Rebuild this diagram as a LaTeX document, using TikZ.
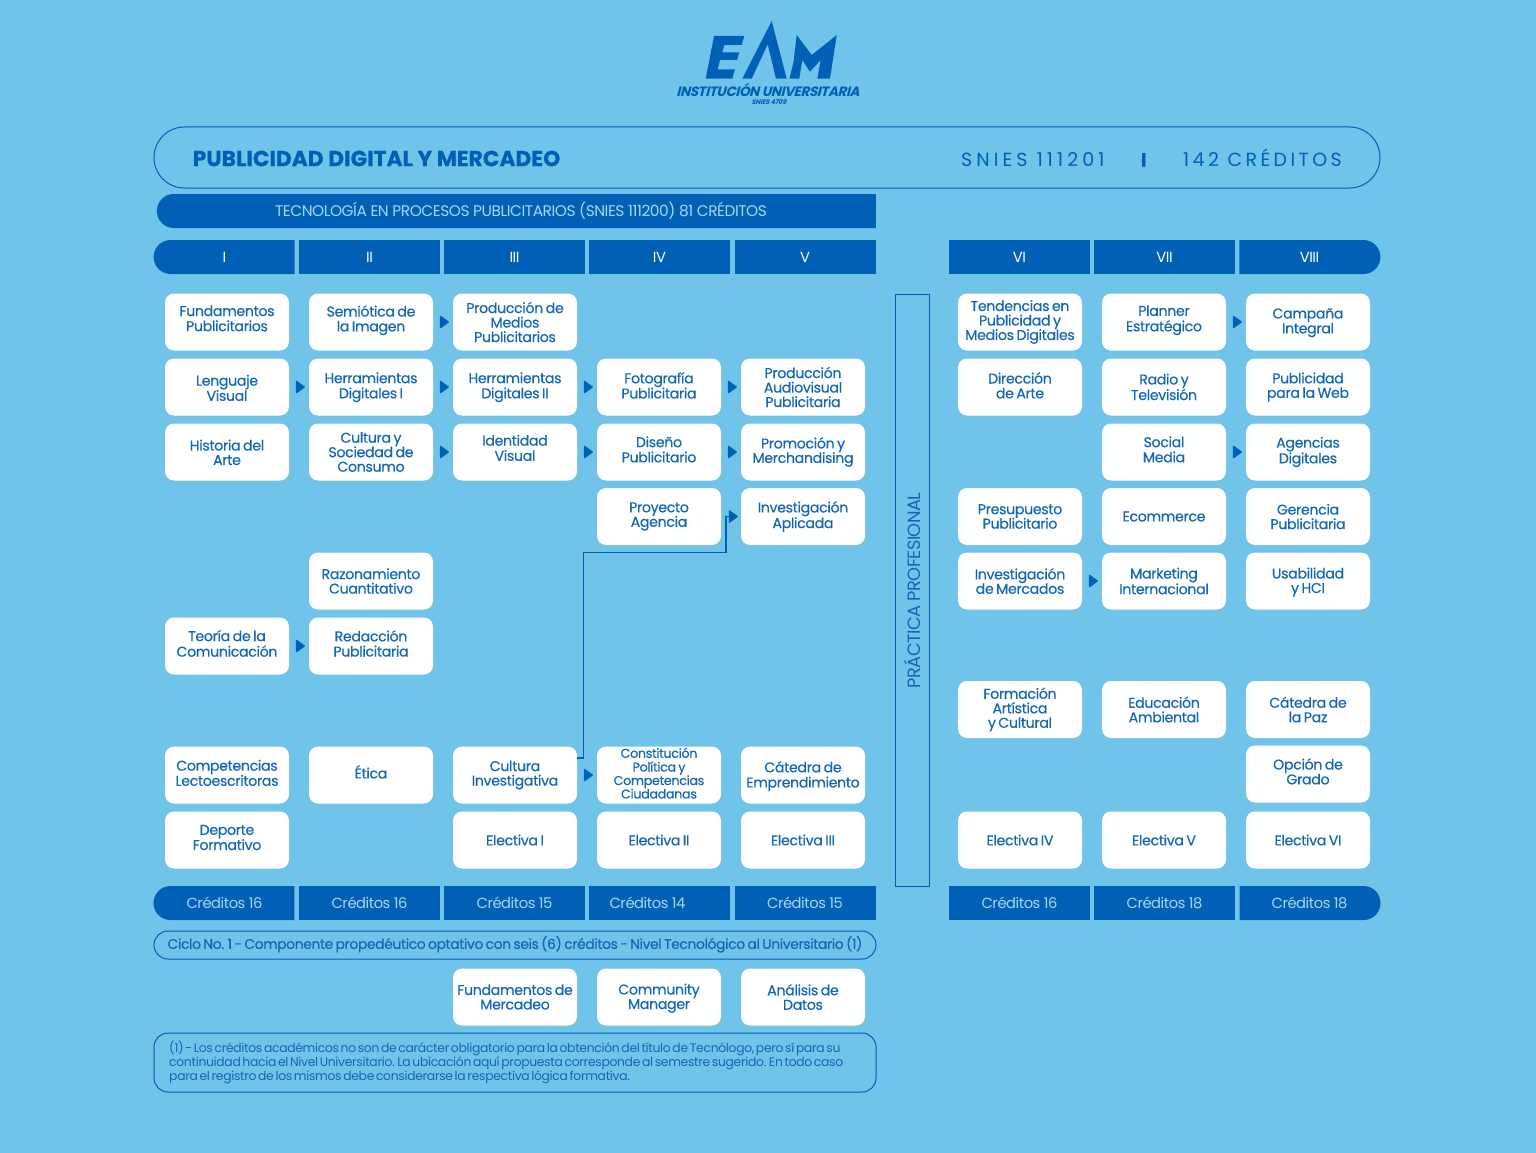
\documentclass[tikz,border=0pt]{standalone}
\usepackage{fontspec}
\setmainfont{Poppins}
\usetikzlibrary{arrows.meta,shapes.misc}
\newfontfamily\boxfont[LetterSpace=-2.5,FakeBold=0.25,WordSpace=0.7]{Poppins}
\newfontfamily\barfont[LetterSpace=-3]{Poppins}
\newfontfamily\notefont[LetterSpace=-2.5,WordSpace=0.55]{Poppins}
\newfontfamily\sniesfont[LetterSpace=21.5]{Poppins}
\newfontfamily\credfont[LetterSpace=18]{Poppins}
\newfontfamily\titlefont[FakeBold=0.4]{Poppins Bold}
\newfontfamily\logofont[FakeSlant=0.25,LetterSpace=-3]{Poppins Bold}
\definecolor{fondo}{HTML}{70C3E9}
\definecolor{azul}{HTML}{0060B5}
\definecolor{azultexto}{HTML}{1266B6}
\definecolor{claro}{HTML}{A5D8F2}
\newcommand{\subir}[2]{\vbox{\hbox{\begin{tabular}{@{}c@{}}#2\end{tabular}}\kern #1pt}}
\tikzset{
	materia/.style={fill=white, rounded corners=9pt, minimum width=124pt, minimum height=57pt, inner sep=0pt, align=center, text=azultexto, font=\boxfont\fontsize{14.2}{14.5}\selectfont},
	barra/.style={fill=azul, minimum width=141pt, minimum height=34pt, inner sep=0pt, text=claro, font=\barfont\fontsize{14.7}{15}\selectfont},
	barraizq/.style={barra, rounded rectangle, rounded rectangle right arc=none},
	barrader/.style={barra, rounded rectangle, rounded rectangle left arc=none},
	marco/.style={draw=azul, line width=1pt, inner sep=0pt},
	flecha/.style={-{Triangle[length=9.5pt,width=13.5pt,round]}, azul, line width=1.5pt, shorten <=6.5pt, shorten >=4pt}
}
\begin{document}
\begin{tikzpicture}[x=1pt,y=-1pt]
	\fill[fondo] (0,0) rectangle (1536,1153);
	\useasboundingbox (0,0) rectangle (1536,1153);

	\fill[azul] (714,36) -- (744.3,36) -- (741.7,45) -- (724.3,45) -- (722.3,52.3) -- (739.3,52.3) -- (737,60) -- (720,60) -- (717.7,69.3) -- (735,69.3) -- (732.3,78.7) -- (705.7,78.7) -- cycle;
	\fill[azul] (771.7,21) -- (786.7,78.7) -- (776,78.7) -- (767.7,44.3) -- (751.7,78.7) -- (742.3,78.7) -- cycle;
	\fill[azul] (796.7,35) -- (811.7,55) -- (836.7,35) -- (830,78.7) -- (817.3,78.7) -- (820.7,60) -- (810,71.7) -- (802.3,60) -- (799.3,78.7) -- (789.5,78.7) -- (793.5,62) -- cycle;
	\node[text=azul, font=\logofont\fontsize{13.5}{14}\selectfont, inner sep=0pt] (logotexto) at (768,90) {INSTITUCIÓN UNIVERSITARIA};
	\node[text=azul, font=\logofont\fontsize{6.6}{7}\selectfont, inner sep=0pt] (logosnies) at (769,102) {SNIES 4709};

	\node[marco, rounded rectangle, minimum width=1226pt, minimum height=61pt] (titulo) at (767,157.5) {};
	\node[anchor=west, inner sep=0pt, text=azul, font=\titlefont\fontsize{21.8}{22}\selectfont] (nombre) at (192.5,158.5) {PUBLICIDAD DIGITAL Y MERCADEO};
	\node[anchor=base west, inner sep=0pt, text=azul, font=\sniesfont\fontsize{19}{19}\selectfont] (snies) at (961,166) {SNIES 111201};
	\node[anchor=base, inner sep=0pt, text=azul, font=\titlefont\fontsize{19}{19}\selectfont] (separador) at (1143.7,166.5) {I};
	\node[anchor=base west, inner sep=0pt, text=azul, font=\credfont\fontsize{19}{19}\selectfont] (creditos) at (1183,166) {142 CRÉDITOS};

	\node[barraizq, minimum width=719pt, font=\barfont\fontsize{15.4}{16}\selectfont] (tecnologia) at (517.5,211) {\hspace{7pt}TECNOLOGÍA EN PROCESOS PUBLICITARIOS (SNIES 111200) 81 CRÉDITOS};

	\node[barraizq] (semI) at (224.5,257) {\textcolor{white}{I}};
	\node[barra] (semII) at (369.5,257) {\textcolor{white}{II}};
	\node[barra] (semIII) at (514.5,257) {\textcolor{white}{III}};
	\node[barra] (semIV) at (659.5,257) {\textcolor{white}{IV}};
	\node[barra] (semV) at (805,257) {\textcolor{white}{V}};
	\node[barra] (semVI) at (1019.5,257) {\textcolor{white}{VI}};
	\node[barra] (semVII) at (1164.5,257) {\textcolor{white}{VII}};
	\node[barrader] (semVIII) at (1309.5,257) {\textcolor{white}{VIII}};

	\node[barraizq] (credI) at (224.5,903) {Créditos 16};
	\node[barra] (credII) at (369.5,903) {Créditos 16};
	\node[barra] (credIII) at (514.5,903) {Créditos 15};
	\node[barra] (credIV) at (659.5,903) {\hspace{-24pt}Créditos 14};
	\node[barra] (credV) at (805,903) {Créditos 15};
	\node[barra] (credVI) at (1019.5,903) {Créditos 16};
	\node[barra] (credVII) at (1164.5,903) {Créditos 18};
	\node[barrader] (credVIII) at (1309.5,903) {Créditos 18};

	\node[marco, minimum width=34pt, minimum height=592pt] (practica) at (912,590) {};
	\node[rotate=90, text=azultexto, font=\barfont\fontsize{17.8}{18}\selectfont, inner sep=0pt] (practicatexto) at (912.5,590.5) {PRÁCTICA PROFESIONAL};

	\node[materia] (fundpub) at (227,322) {\subir{3}{Fundamentos\\Publicitarios}};
	\node[materia] (semiotica) at (371,322) {\subir{3}{Semiótica de\\la Imagen}};
	\node[materia] (prodmedios) at (515,322) {Producción de\\Medios\\Publicitarios};
	\node[materia] (lenguaje) at (227,387) {\subir{-6}{Lenguaje\\Visual}};
	\node[materia] (herrI) at (371,387) {\subir{-1}{Herramientas\\Digitales I}};
	\node[materia] (herrII) at (515,387) {\subir{-1}{Herramientas\\Digitales II}};
	\node[materia] (foto) at (659,387) {\subir{-1}{Fotografía\\Publicitaria}};
	\node[materia] (audiovisual) at (803,387) {Producción\\Audiovisual\\Publicitaria};
	\node[materia] (historia) at (227,452) {\subir{-5}{Historia del\\Arte}};
	\node[materia] (cultura) at (371,452) {Cultura y\\Sociedad de\\Consumo};
	\node[materia] (identidad) at (515,452) {\subir{4}{Identidad\\Visual}};
	\node[materia] (diseno) at (659,452) {\subir{1}{Diseño\\Publicitario}};
	\node[materia] (promocion) at (803,452) {Promoción y\\Merchandising};
	\node[materia] (agencia) at (659,516.5) {Proyecto\\Agencia};
	\node[materia] (invaplicada) at (803,516.5) {Investigación\\Aplicada};
	\node[materia] (razonamiento) at (371,581) {Razonamiento\\Cuantitativo};
	\node[materia] (teoria) at (227,646) {\subir{1}{Teoría de la\\Comunicación}};
	\node[materia] (redaccion) at (371,646) {\subir{1}{Redacción\\Publicitaria}};
	\node[materia] (competencias) at (227,775) {\subir{0}{Competencias\\Lectoescritoras}};
	\node[materia] (etica) at (371,775) {\subir{2}{Ética}};
	\node[materia] (investigativa) at (515,775) {Cultura\\Investigativa};
	\node[materia, font=\boxfont\fontsize{12.7}{12.7}\selectfont] (constitucion) at (659,775) {\subir{0}{Constitución\\Política y\\Competencias\\Ciudadanas}};
	\node[materia] (emprendimiento) at (803,775) {\subir{-3}{Cátedra de\\Emprendimiento}};
	\node[materia] (deporte) at (227,840) {\subir{1}{Deporte\\Formativo}};
	\node[materia] (electI) at (515,840) {Electiva I};
	\node[materia] (electII) at (659,840) {Electiva II};
	\node[materia] (electIII) at (803,840) {Electiva III};

	\node[materia] (tendencias) at (1020,322) {Tendencias en\\Publicidad y\\Medios Digitales};
	\node[materia] (planner) at (1164,322) {\subir{3}{Planner\\Estratégico}};
	\node[materia] (campana) at (1308,322) {\subir{-2}{Campaña\\Integral}};
	\node[materia] (direccion) at (1020,387) {\subir{-1}{Dirección\\de Arte}};
	\node[materia] (radio) at (1164,387) {\subir{-4}{Radio y\\Televisión}};
	\node[materia] (web) at (1308,387) {Publicidad\\para la Web};
	\node[materia] (social) at (1164,452) {\subir{1}{Social\\Media}};
	\node[materia] (agdigitales) at (1308,452) {Agencias\\Digitales};
	\node[materia] (presupuesto) at (1020,516.5) {Presupuesto\\Publicitario};
	\node[materia] (ecommerce) at (1164,516.5) {Ecommerce};
	\node[materia] (gerencia) at (1308,516.5) {Gerencia\\Publicitaria};
	\node[materia] (invmercados) at (1020,581) {Investigación\\de Mercados};
	\node[materia] (marketing) at (1164,581) {Marketing\\Internacional};
	\node[materia] (usabilidad) at (1308,581) {\subir{-3}{Usabilidad\\y HCI}};
	\node[materia] (artistica) at (1020,709.5) {Formación\\Artística\\y Cultural};
	\node[materia] (ambiental) at (1164,709.5) {Educación\\Ambiental};
	\node[materia] (paz) at (1308,709.5) {Cátedra de\\la Paz};
	\node[materia] (grado) at (1308,774) {\subir{1}{Opción de\\Grado}};
	\node[materia] (electIV) at (1020,840) {Electiva IV};
	\node[materia] (electV) at (1164,840) {Electiva V};
	\node[materia] (electVI) at (1308,840) {Electiva VI};

	\node[marco, rounded rectangle, minimum width=722pt, minimum height=28pt, text=azultexto, font=\boxfont\fontsize{13.85}{14}\selectfont] (ciclo) at (515,945) {\subir{1}{Ciclo No. 1 - Componente propedéutico optativo con seis (6) créditos - Nivel Tecnológico al Universitario (1)}};
	\node[materia] (fundmercadeo) at (515,997) {Fundamentos de\\Mercadeo};
	\node[materia] (community) at (659,997) {\subir{-3}{Community\\Manager}};
	\node[materia] (datos) at (803,997) {Análisis de\\Datos};
	\node[marco, rounded corners=14pt, minimum width=722pt, minimum height=59pt] (nota) at (515,1062.5) {};
	\node[anchor=west, align=left, inner sep=0pt, text=azultexto, font=\notefont\fontsize{12.35}{14}\selectfont] (notatexto) at (169,1062) {(1) - Los créditos académicos no son de carácter obligatorio para la obtención del título de Tecnólogo, pero sí para su\\continuidad hacia el Nivel Universitario. La ubicación aquí propuesta corresponde al semestre sugerido. En todo caso\\para el registro de los mismos debe considerarse la respectiva lógica formativa.};

	\foreach \a/\b in {semiotica/prodmedios, lenguaje/herrI, herrI/herrII, herrII/foto, foto/audiovisual, cultura/identidad, identidad/diseno, diseno/promocion, teoria/redaccion, investigativa/constitucion, planner/campana, social/agdigitales, invmercados/marketing}
		\draw[flecha] (\a) -- (\b);

	\coordinate (subida) at (583.5,552.7);
	\coordinate (codo) at (726,552.7);
	\draw[azul, line width=1.1pt] ([yshift=17pt]investigativa.east) -| (subida) -- (codo) |- ([xshift=-8pt]invaplicada.west);
	\draw[flecha, shorten <=0pt, shorten >=3pt] ([xshift=-14pt]invaplicada.west) -- (invaplicada.west);
\end{tikzpicture}
\end{document}
